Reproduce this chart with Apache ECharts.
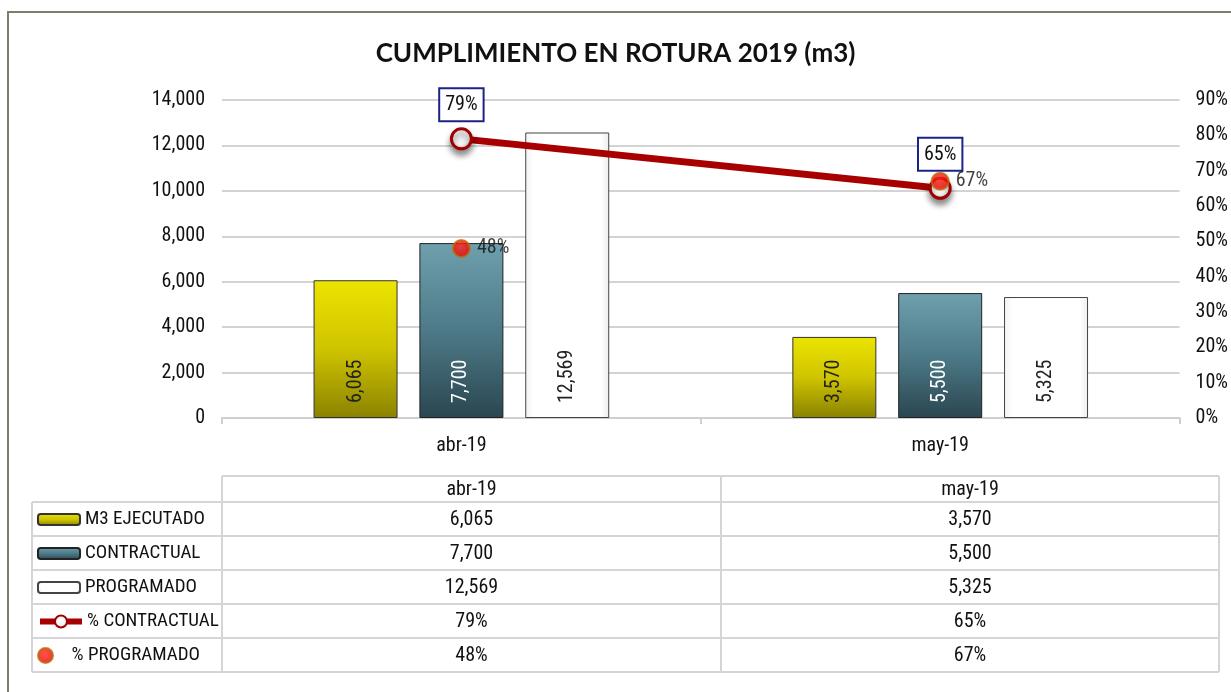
<!DOCTYPE html>
<html>
<head>
<meta charset="utf-8">
<title>Cumplimiento en rotura 2019</title>
<script src="https://cdn.jsdelivr.net/npm/echarts@6/dist/echarts.min.js"></script>
<style>
  html, body { margin: 0; padding: 0; background: #fff; }
  #chart { width: 1231px; height: 692px; }
</style>
</head>
<body>
<div id="chart"></div>
<script>
// Months shown on the category axis and in the data table
const categories = ['abr-19', 'may-19'];

// Volumes (m3)
const ejecutado = [6065, 3570];
const contractual = [7700, 5500];
const programado = [12569, 5325];

// Compliance ratios
const pctContractual = [0.79, 0.65];
const pctProgramado = [0.48, 0.67];

// Series names (legend / table row headers)
const seriesNames = ['M3 EJECUTADO', 'CONTRACTUAL', 'PROGRAMADO', '% CONTRACTUAL', '% PROGRAMADO'];

const FONT = "'Liberation Sans Narrow', 'Roboto Condensed', 'Liberation Sans', sans-serif";
const fmtNum = v => v.toLocaleString('en-US');
const fmtPct = v => Math.round(v * 100) + '%';

const yellowFill = new echarts.graphic.LinearGradient(0, 0, 0, 1, [
  { offset: 0, color: '#ece400' },
  { offset: 0.5, color: '#cfc400' },
  { offset: 1, color: '#8a8200' }
]);
const tealFill = new echarts.graphic.LinearGradient(0, 0, 0, 1, [
  { offset: 0, color: '#6fa0ad' },
  { offset: 0.5, color: '#4d7a88' },
  { offset: 1, color: '#2a4650' }
]);
const whiteFill = new echarts.graphic.LinearGradient(0, 0, 1, 0, [
  { offset: 0, color: '#f2f2f2' },
  { offset: 0.1, color: '#ffffff' },
  { offset: 0.9, color: '#ffffff' },
  { offset: 1, color: '#ececec' }
]);
const knobFill = new echarts.graphic.RadialGradient(0.45, 0.4, 0.6, [
  { offset: 0, color: '#ffffff' },
  { offset: 0.6, color: '#f4f4f4' },
  { offset: 1, color: '#c8c8c8' }
]);
const redDotFill = new echarts.graphic.RadialGradient(0.45, 0.4, 0.6, [
  { offset: 0, color: '#ff2a1a' },
  { offset: 1, color: '#e80000' }
]);

// Data table geometry
const tbl = {
  labelLeft: 32, left: 222, mid: 721, right: 1219,
  headTop: 476, headBottom: 502, rowH: 34
};
const rowCenter = i => tbl.headBottom + tbl.rowH * i + tbl.rowH / 2;
const colCenter = j => j === 0 ? (tbl.left + tbl.mid) / 2 : (tbl.mid + tbl.right) / 2;

const tableRows = [
  ejecutado.map(fmtNum),
  contractual.map(fmtNum),
  programado.map(fmtNum),
  pctContractual.map(fmtPct),
  pctProgramado.map(fmtPct)
];

const graphics = [];
const lineStyle = { stroke: '#d5d5d5', lineWidth: 2 };
const tableBottom = tbl.headBottom + tbl.rowH * tableRows.length;
// horizontal rules
graphics.push({ type: 'line', shape: { x1: tbl.left, y1: tbl.headTop, x2: tbl.right, y2: tbl.headTop }, style: lineStyle, silent: true });
for (let i = 0; i <= tableRows.length; i++) {
  const y = tbl.headBottom + tbl.rowH * i;
  graphics.push({ type: 'line', shape: { x1: tbl.labelLeft, y1: y, x2: tbl.right, y2: y }, style: lineStyle, silent: true });
}
// vertical rules
graphics.push({ type: 'line', shape: { x1: tbl.labelLeft, y1: tbl.headBottom, x2: tbl.labelLeft, y2: tableBottom }, style: lineStyle, silent: true });
[tbl.left, tbl.mid, tbl.right].forEach(x => {
  graphics.push({ type: 'line', shape: { x1: x, y1: tbl.headTop, x2: x, y2: tableBottom }, style: lineStyle, silent: true });
});
// header
categories.forEach((c, j) => {
  graphics.push({
    type: 'text', x: colCenter(j), y: (tbl.headTop + tbl.headBottom) / 2 + 1,
    style: { text: c, font: '20px ' + FONT, fill: '#111', align: 'center', verticalAlign: 'middle' },
    silent: true
  });
});
// values
tableRows.forEach((row, i) => {
  row.forEach((txt, j) => {
    graphics.push({
      type: 'text', x: colCenter(j), y: rowCenter(i) + 1,
      style: { text: txt, font: '20px ' + FONT, fill: '#111', align: 'center', verticalAlign: 'middle' },
      silent: true
    });
  });
});
// outer frame
graphics.push({
  type: 'rect', shape: { x: 8, y: 12, width: 1260, height: 720 },
  style: { fill: 'none', stroke: '#7e7e68', lineWidth: 2 }, silent: true, z: -10
});

// one legend per table row so each key sits in its own cell
const legends = seriesNames.map((name, i) => {
  const lg = {
    data: [name],
    left: 37,
    top: rowCenter(i) - 9,
    padding: 0,
    itemWidth: 42,
    itemHeight: i >= 3 ? 15 : 11,
    itemGap: 0,
    selectedMode: false,
    textStyle: { fontFamily: FONT, fontSize: 19, color: '#111' }
  };
  if (i === 3) lg.lineStyle = { width: 6, color: '#a80000' };
  return lg;
});

const barLabel = color => ({
  show: true,
  position: 'insideBottom',
  rotate: 90,
  align: 'left',
  verticalAlign: 'middle',
  distance: 15,
  fontFamily: FONT,
  fontSize: 20,
  color: color,
  formatter: p => fmtNum(p.value)
});

const option = {
  backgroundColor: '#fff',
  animation: false,
  title: {
    text: 'CUMPLIMIENTO EN ROTURA 2019 (m3)',
    left: 'center',
    top: 36,
    textStyle: { fontFamily: "Lato, 'Open Sans', sans-serif", fontWeight: 'bold', fontSize: 26, color: '#111' }
  },
  legend: legends,
  grid: { left: 222, right: 51, top: 100, bottom: 274, containLabel: false },
  xAxis: {
    type: 'category',
    data: categories,
    axisLine: { lineStyle: { color: '#cfcfcf', width: 2 } },
    axisTick: { show: true, length: 6, lineStyle: { color: '#cfcfcf', width: 2 } },
    axisLabel: { fontFamily: FONT, fontSize: 20, color: '#111', margin: 18 }
  },
  yAxis: [
    {
      type: 'value', min: 0, max: 14000, interval: 2000,
      axisLine: { show: false }, axisTick: { show: false },
      splitLine: { lineStyle: { color: '#d3d3d3', width: 2 } },
      axisLabel: { fontFamily: FONT, fontSize: 20, color: '#111', margin: 17, formatter: v => fmtNum(v) }
    },
    {
      type: 'value', min: 0, max: 0.9, interval: 0.1,
      axisLine: { show: false }, axisTick: { show: false },
      splitLine: { show: false },
      axisLabel: { fontFamily: FONT, fontSize: 20, color: '#111', margin: 16, formatter: v => fmtPct(v) }
    }
  ],
  series: [
    {
      name: seriesNames[0], type: 'bar', data: ejecutado,
      barWidth: 84, barGap: '26%',
      itemStyle: { color: yellowFill, borderColor: '#333', borderWidth: 1 },
      label: barLabel('#222')
    },
    {
      name: seriesNames[1], type: 'bar', data: contractual,
      barWidth: 84, barGap: '26%',
      itemStyle: { color: tealFill, borderColor: '#222', borderWidth: 1 },
      label: barLabel('#fff')
    },
    {
      name: seriesNames[2], type: 'bar', data: programado,
      barWidth: 84, barGap: '26%',
      itemStyle: { color: whiteFill, borderColor: '#444', borderWidth: 1 },
      label: barLabel('#222')
    },
    {
      name: seriesNames[3], type: 'line', yAxisIndex: 1, data: pctContractual,
      symbol: 'circle', symbolSize: 20, z: 5,
      lineStyle: { color: '#a80000', width: 7 },
      itemStyle: {
        color: knobFill, borderColor: '#a00000', borderWidth: 3,
        shadowBlur: 6, shadowColor: 'rgba(0,0,0,0.45)', shadowOffsetY: 5
      },
      label: {
        show: true, position: 'top', distance: 7,
        fontFamily: FONT, fontSize: 20, color: '#111',
        backgroundColor: '#fff', borderColor: '#1c2386', borderWidth: 2,
        padding: [6, 5, 5, 5],
        formatter: p => fmtPct(p.value)
      }
    },
    {
      name: seriesNames[4], type: 'scatter', yAxisIndex: 1, data: pctProgramado,
      symbol: 'circle', symbolSize: 17, z: 6,
      itemStyle: { color: redDotFill, borderColor: '#b8700c', borderWidth: 2 },
      label: {
        show: true, position: 'right', distance: 6,
        fontFamily: FONT, fontSize: 20, color: '#111',
        formatter: p => fmtPct(p.value)
      }
    }
  ],
  graphic: graphics
};

const chart = echarts.init(document.getElementById('chart'), null, { renderer: 'canvas' });
chart.setOption(option);
</script>
</body>
</html>
